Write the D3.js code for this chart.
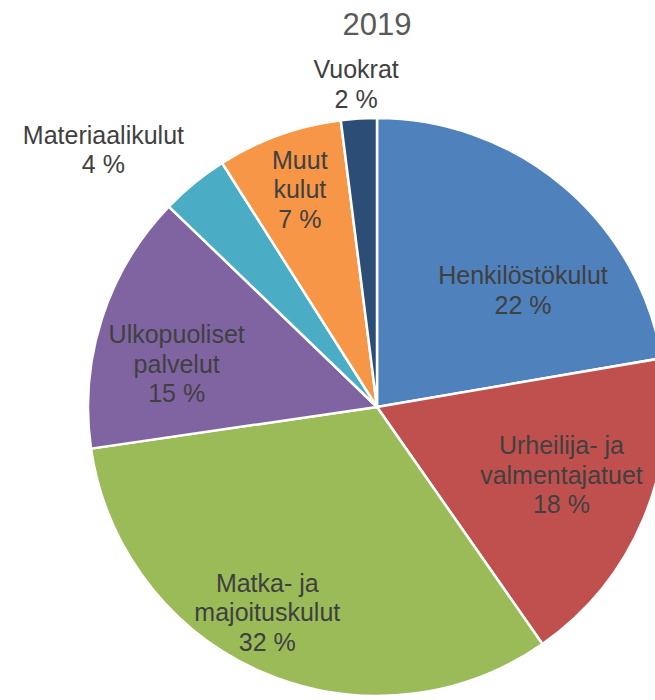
<!DOCTYPE html>
<html>
<head>
<meta charset="utf-8">
<script src="https://cdn.jsdelivr.net/npm/d3@7"></script>
<style>
    body { margin: 0; background: #fff; }
    text { font-family: "Liberation Sans", Arial, sans-serif; }
</style>
</head>
<body>
<svg id="chart"></svg>
<script>
let title = "2019";
let categories = ["Henkilöstökulut", "Urheilija- ja valmentajatuet", "Matka- ja majoituskulut",
    "Ulkopuoliset palvelut", "Materiaalikulut", "Muut kulut", "Vuokrat"];
let labelLines = [
    ["Henkilöstökulut"],
    ["Urheilija- ja", "valmentajatuet"],
    ["Matka- ja", "majoituskulut"],
    ["Ulkopuoliset", "palvelut"],
    ["Materiaalikulut"],
    ["Muut", "kulut"],
    ["Vuokrat"]
];
let values = [22.3, 18.0, 32.4, 14.5, 3.8, 7.0, 2.0];
let colors = ["#4F81BD", "#C0504D", "#9BBB59", "#8064A2", "#4BACC6", "#F79646", "#2C4D75"];

// label placement (best fit look): radius factor and angle shift in degrees
let labelRadius = [0.647, 0.68, 0.806, 0.709, 1.30, 0.80, 1.12];
let labelTurn = [11.2, -2.5, 4.7, -5.7, -7.5, 0.3, -0.1];

let width = 655, height = 700;
let cx = 377, cy = 407, radius = 289;
let fontSize = 25, lineHeight = 29.5;

let svg = d3.select("#chart")
    .attr("width", width)
    .attr("height", height);

svg.append("text")
    .attr("x", cx)
    .attr("y", 35)
    .attr("text-anchor", "middle")
    .style("font-size", "31px")
    .style("fill", "#595959")
    .text(title);

let data = categories.map(function (c, i) {
    return {name: c, value: values[i], index: i};
});

let pie = d3.pie()
    .sort(null)
    .value(function (d) { return d.value; });

let arc = d3.arc()
    .innerRadius(0)
    .outerRadius(radius);

let g = svg.append("g")
    .attr("transform", "translate(" + cx + "," + cy + ")");

let arcs = pie(data);

g.selectAll("path")
    .data(arcs)
    .enter()
    .append("path")
    .attr("d", arc)
    .style("fill", function (d) { return colors[d.index]; })
    .style("stroke", "#fff")
    .style("stroke-width", 2.5)
    .style("stroke-linejoin", "round");

let labels = g.selectAll("text.lbl")
    .data(arcs)
    .enter()
    .append("text")
    .attr("class", "lbl")
    .attr("text-anchor", "middle")
    .style("font-size", fontSize + "px")
    .style("fill", "#404040")
    .each(function (d) {
        let i = d.index;
        let mid = (d.startAngle + d.endAngle) / 2 + labelTurn[i] * Math.PI / 180;
        let r = radius * labelRadius[i];
        let x = r * Math.sin(mid);
        let y = -r * Math.cos(mid);
        let lines = labelLines[i].concat([Math.round(d.data.value) + " %"]);
        let firstBase = y - (lines.length - 1) * lineHeight / 2 + fontSize * 0.36;
        let t = d3.select(this);
        lines.forEach(function (line, k) {
            t.append("tspan")
                .attr("x", x)
                .attr("y", firstBase + k * lineHeight)
                .text(line);
        });
    });
</script>
</body>
</html>
